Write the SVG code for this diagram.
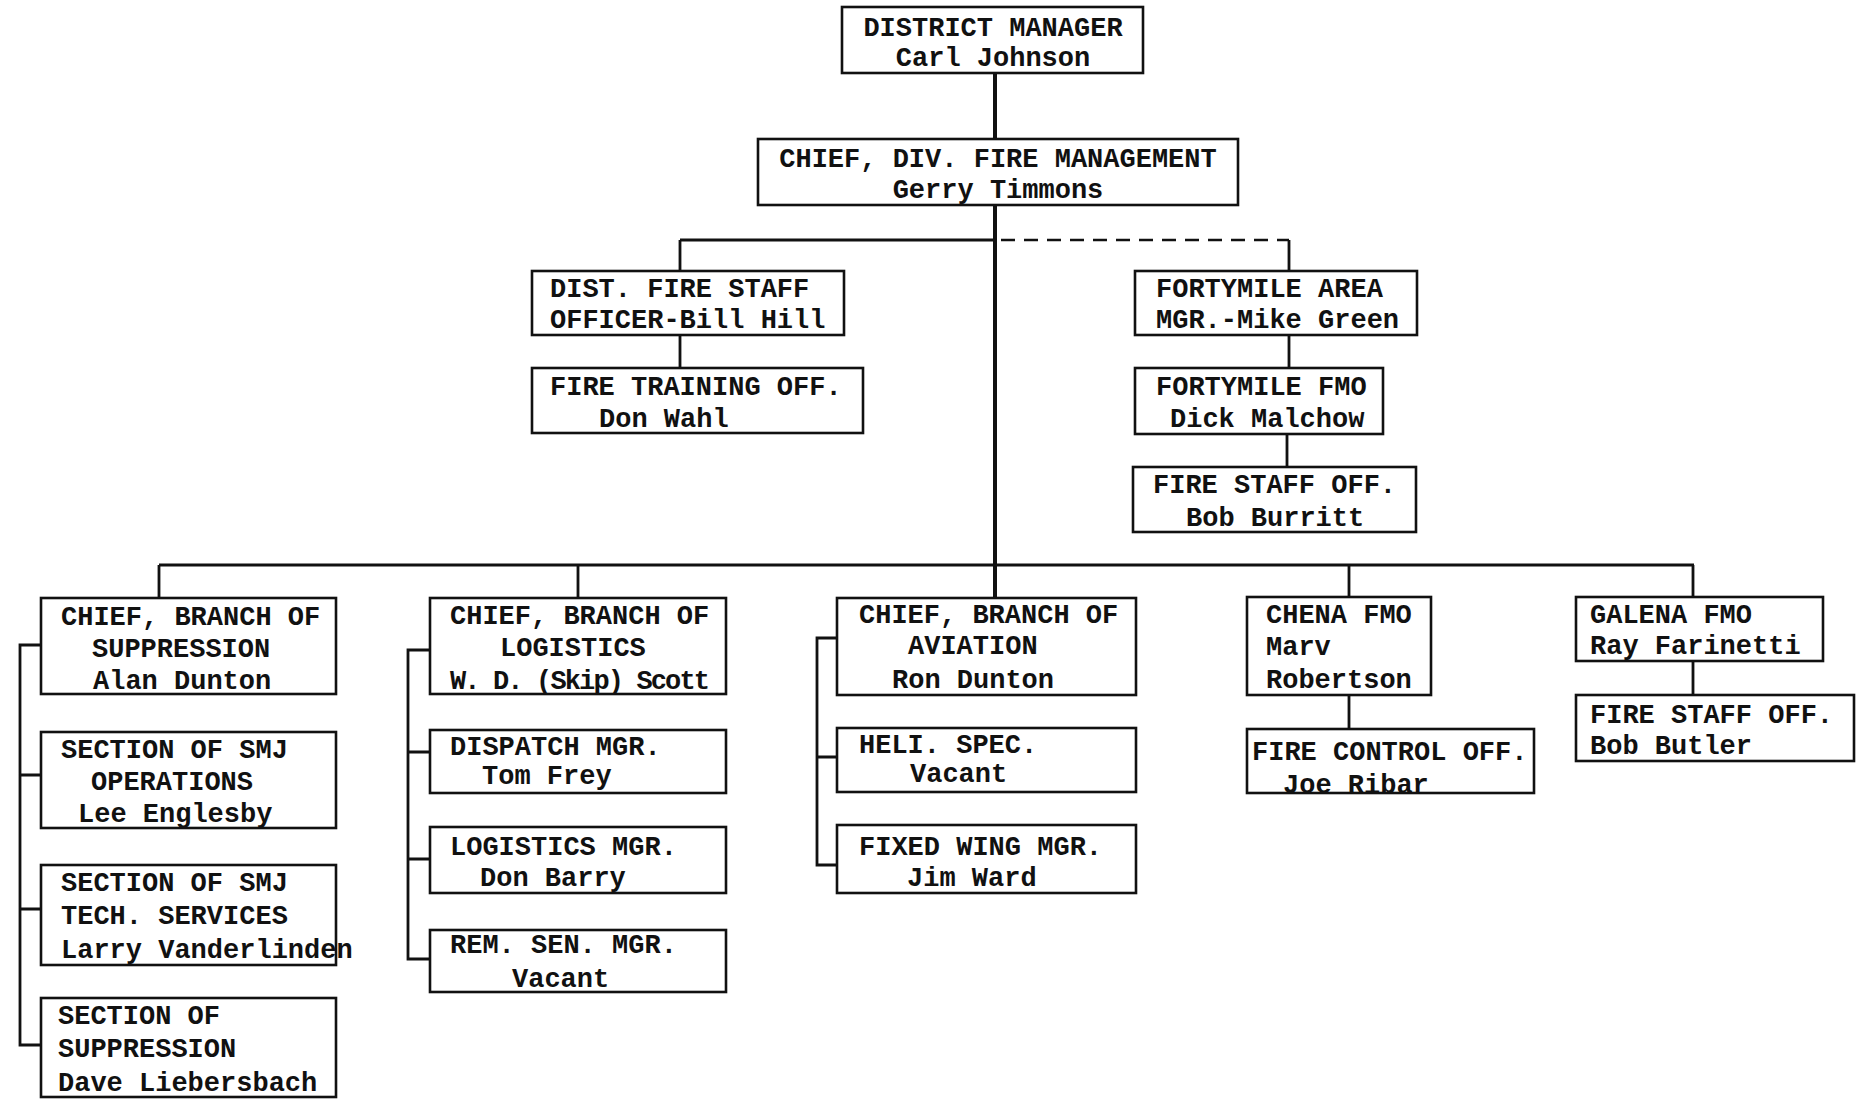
<svg xmlns="http://www.w3.org/2000/svg" width="1857" height="1099" viewBox="0 0 1857 1099">
<style>
  .box { fill: #ffffff; stroke: #111111; stroke-width: 2.6; }
  .t { font-family: "Liberation Mono", "Courier New", monospace; font-size: 27px; font-weight: bold; fill: #111111; }
  .c { text-anchor: middle; }
  .ln { fill: none; stroke: #111111; stroke-width: 2.8; }
  .trunk { fill: none; stroke: #111111; stroke-width: 4; }
  .dash { fill: none; stroke: #111111; stroke-width: 2.6; stroke-dasharray: 14 9; }
</style>
<rect x="0" y="0" width="1857" height="1099" fill="#ffffff"/>

<g id="connectors">
  <path class="trunk" d="M995 73 V598"/>
  <path class="ln" d="M680 240 H995 M680 240 V271 M680 335 V368"/>
  <path class="dash" d="M1001 240 H1289"/>
  <path class="ln" d="M1289 240 V271 M1289 335 V368 M1287 434 V467"/>
  <path class="ln" d="M159 565 H1694 M159 565 V598 M578 565 V598 M1349 565 V597 M1693 565 V597"/>
  <path class="ln" d="M1349 695 V729 M1693 661 V695"/>
  <path class="ln" d="M41 645 H20 V1045 H41 M20 775 H41 M20 909 H41"/>
  <path class="ln" d="M430 650 H408 V959 H430 M408 752 H430 M408 859 H430"/>
  <path class="ln" d="M837 638 H817 V865 H837 M817 757 H837"/>
</g>

<g id="district-manager">
  <rect class="box" x="842" y="7" width="301" height="66"/>
  <text class="t c" x="993" y="36">DISTRICT MANAGER</text>
  <text class="t c" x="993" y="66">Carl Johnson</text>
</g>

<g id="chief-div-fire-mgmt">
  <rect class="box" x="758" y="139" width="480" height="66"/>
  <text class="t c" x="998" y="167">CHIEF, DIV. FIRE MANAGEMENT</text>
  <text class="t c" x="998" y="198">Gerry Timmons</text>
</g>

<g id="dist-fire-staff">
  <rect class="box" x="532" y="271" width="312" height="64"/>
  <text class="t" x="550" y="297">DIST. FIRE STAFF</text>
  <text class="t" x="550" y="328">OFFICER-Bill Hill</text>
</g>

<g id="fire-training">
  <rect class="box" x="532" y="368" width="331" height="65"/>
  <text class="t" x="550" y="395">FIRE TRAINING OFF.</text>
  <text class="t" x="599" y="427">Don Wahl</text>
</g>

<g id="fortymile-area">
  <rect class="box" x="1135" y="271" width="282" height="64"/>
  <text class="t" x="1156" y="297">FORTYMILE AREA</text>
  <text class="t" x="1156" y="328">MGR.-Mike Green</text>
</g>

<g id="fortymile-fmo">
  <rect class="box" x="1135" y="368" width="248" height="66"/>
  <text class="t" x="1156" y="395">FORTYMILE FMO</text>
  <text class="t" x="1170" y="427">Dick Malchow</text>
</g>

<g id="fortymile-fire-staff">
  <rect class="box" x="1133" y="467" width="283" height="65"/>
  <text class="t" x="1153" y="493">FIRE STAFF OFF.</text>
  <text class="t" x="1186" y="526">Bob Burritt</text>
</g>

<g id="branch-suppression">
  <rect class="box" x="41" y="598" width="295" height="96"/>
  <text class="t" x="61" y="625">CHIEF, BRANCH OF</text>
  <text class="t" x="92" y="657">SUPPRESSION</text>
  <text class="t" x="93" y="689">Alan Dunton</text>
</g>

<g id="smj-operations">
  <rect class="box" x="41" y="732" width="295" height="96"/>
  <text class="t" x="61" y="758">SECTION OF SMJ</text>
  <text class="t" x="91" y="790">OPERATIONS</text>
  <text class="t" x="78" y="822">Lee Englesby</text>
</g>

<g id="smj-tech-services">
  <rect class="box" x="41" y="865" width="295" height="100"/>
  <text class="t" x="61" y="891">SECTION OF SMJ</text>
  <text class="t" x="61" y="924">TECH. SERVICES</text>
  <text class="t" x="61" y="958">Larry Vanderlinden</text>
</g>

<g id="section-suppression">
  <rect class="box" x="41" y="998" width="295" height="99"/>
  <text class="t" x="58" y="1024">SECTION OF</text>
  <text class="t" x="58" y="1057">SUPPRESSION</text>
  <text class="t" x="58" y="1091">Dave Liebersbach</text>
</g>

<g id="branch-logistics">
  <rect class="box" x="430" y="598" width="296" height="96"/>
  <text class="t" x="450" y="624">CHIEF, BRANCH OF</text>
  <text class="t" x="500" y="656">LOGISTICS</text>
  <text class="t" x="450" y="689" textLength="260" lengthAdjust="spacing">W. D. (Skip) Scott</text>
</g>

<g id="dispatch-mgr">
  <rect class="box" x="430" y="730" width="296" height="63"/>
  <text class="t" x="450" y="755">DISPATCH MGR.</text>
  <text class="t" x="482" y="784">Tom Frey</text>
</g>

<g id="logistics-mgr">
  <rect class="box" x="430" y="827" width="296" height="66"/>
  <text class="t" x="450" y="855">LOGISTICS MGR.</text>
  <text class="t" x="480" y="886">Don Barry</text>
</g>

<g id="rem-sen-mgr">
  <rect class="box" x="430" y="930" width="296" height="62"/>
  <text class="t" x="450" y="953">REM. SEN. MGR.</text>
  <text class="t" x="512" y="987">Vacant</text>
</g>

<g id="branch-aviation">
  <rect class="box" x="837" y="598" width="299" height="97"/>
  <text class="t" x="859" y="623">CHIEF, BRANCH OF</text>
  <text class="t" x="908" y="654">AVIATION</text>
  <text class="t" x="892" y="688">Ron Dunton</text>
</g>

<g id="heli-spec">
  <rect class="box" x="837" y="728" width="299" height="64"/>
  <text class="t" x="859" y="753">HELI. SPEC.</text>
  <text class="t" x="910" y="782">Vacant</text>
</g>

<g id="fixed-wing">
  <rect class="box" x="837" y="825" width="299" height="68"/>
  <text class="t" x="859" y="855">FIXED WING MGR.</text>
  <text class="t" x="907" y="886">Jim Ward</text>
</g>

<g id="chena-fmo">
  <rect class="box" x="1247" y="597" width="184" height="98"/>
  <text class="t" x="1266" y="623">CHENA FMO</text>
  <text class="t" x="1266" y="655">Marv</text>
  <text class="t" x="1266" y="688">Robertson</text>
</g>

<g id="fire-control">
  <rect class="box" x="1247" y="729" width="287" height="64"/>
  <text class="t" x="1252" y="760">FIRE CONTROL OFF.</text>
  <text class="t" x="1283" y="793">Joe Ribar</text>
</g>

<g id="galena-fmo">
  <rect class="box" x="1576" y="597" width="247" height="64"/>
  <text class="t" x="1590" y="623">GALENA FMO</text>
  <text class="t" x="1590" y="654">Ray Farinetti</text>
</g>

<g id="galena-fire-staff">
  <rect class="box" x="1576" y="695" width="278" height="66"/>
  <text class="t" x="1590" y="723">FIRE STAFF OFF.</text>
  <text class="t" x="1590" y="754">Bob Butler</text>
</g>
</svg>
